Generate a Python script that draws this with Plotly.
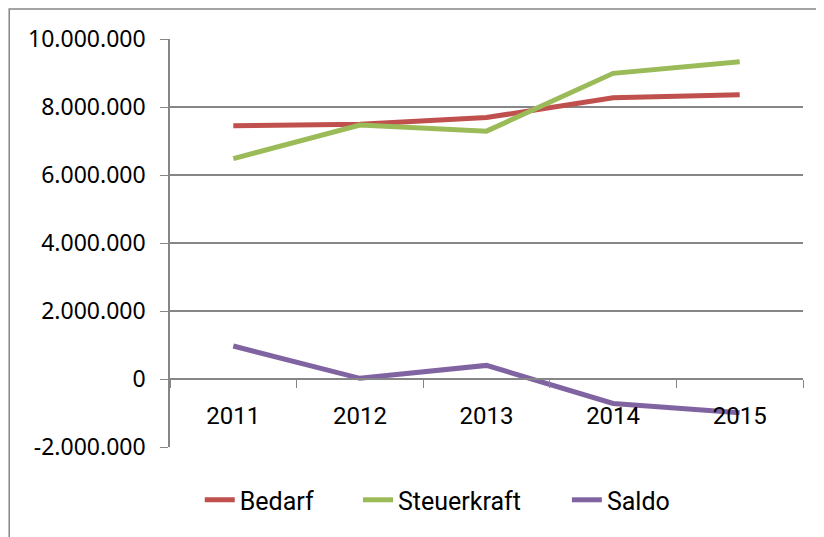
import plotly.graph_objects as go

# data
years = ["2011", "2012", "2013", "2014", "2015"]
bedarf = [7450000, 7490000, 7690000, 8270000, 8360000]
steuerkraft = [6480000, 7470000, 7290000, 8990000, 9330000]
saldo = [970000, 20000, 400000, -720000, -990000]

y_ticks = [-2000000, 0, 2000000, 4000000, 6000000, 8000000, 10000000]
y_labels = ["-2.000.000", "0", "2.000.000", "4.000.000", "6.000.000", "8.000.000", "10.000.000"]

grey = "#868686"
cond = "Roboto, sans-serif"

series = [("Bedarf", bedarf, "#C0504D", "legend"),
          ("Steuerkraft", steuerkraft, "#9BBB59", "legend2"),
          ("Saldo", saldo, "#8064A2", "legend3")]

fig = go.Figure()
for name, vals, col, leg in series:
    fig.add_trace(go.Scatter(x=years, y=vals, name=name, mode="lines", legend=leg,
                             line=dict(color=col, width=5)))

# page body has an 8px margin, so the figure is 816x529 and sits at (8, 8)
# plot area then lands on roughly 170..803 x 39..447 in the window
legend_style = dict(orientation="h", xanchor="left", y=-0.13, yanchor="middle",
                    font=dict(family=cond, size=25, color="black"),
                    itemwidth=30, bgcolor="rgba(0,0,0,0)")
fig.update_layout(
    width=816, height=529,
    margin=dict(l=162, r=21, t=31, b=90, autoexpand=False),
    paper_bgcolor="white", plot_bgcolor="white",
    showlegend=True,
    legend=dict(x=0.047, **legend_style),
    legend2=dict(x=0.297, **legend_style),
    legend3=dict(x=0.627, **legend_style),
    shapes=[dict(type="rect", xref="paper", yref="paper",
                 x0=-0.254, x1=1.2, y0=-0.4, y1=1.0735,
                 line=dict(color=grey, width=1.5), fillcolor="rgba(0,0,0,0)")],
)

fig.update_yaxes(range=[-2000000, 10000000], tickvals=y_ticks, ticktext=y_labels,
                 automargin=False,
                 showgrid=True, gridcolor=grey, gridwidth=1.5,
                 zeroline=False, showline=True, linecolor=grey, linewidth=1.5,
                 ticks="outside", ticklen=8, tickcolor=grey, ticklabelstandoff=10,
                 tickfont=dict(family="Noto Sans, sans-serif", size=23, color="black"))

# category axis crossing the value axis at 0
fig.update_xaxes(type="category", range=[-0.5, 4.5], anchor="free", position=1 / 6,
                 automargin=False,
                 showline=True, linecolor=grey, linewidth=1.5,
                 showgrid=False, ticks="outside", ticklen=8, tickcolor=grey,
                 tickson="boundaries", ticklabelstandoff=15,
                 tickfont=dict(family=cond, size=24, color="black"))

fig.write_html("out.html")
